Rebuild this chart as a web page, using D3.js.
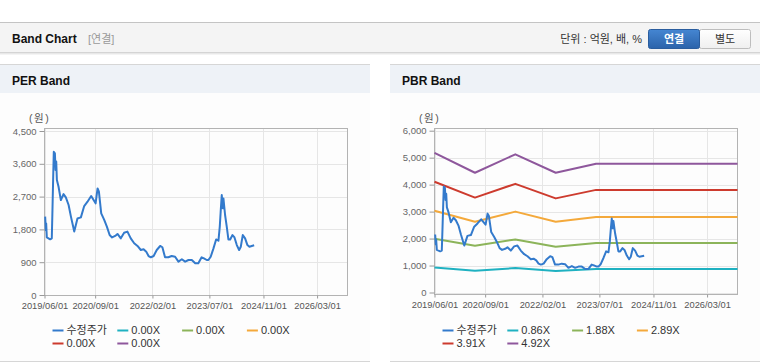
<!DOCTYPE html>
<html><head><meta charset="utf-8">
<script src="https://cdn.jsdelivr.net/npm/d3@7"></script>
<style>
html,body{margin:0;padding:0;background:#fff;}
svg{display:block;font-family:"Liberation Sans","Noto Sans CJK KR",Arial,sans-serif;}
</style></head><body>
<svg id="c" width="760" height="364"></svg>
<script>
// ---------- data ----------
const priceDates = ["2019-06-07","2019-06-13","2019-06-16","2019-06-22","2019-07-07","2019-07-22","2019-08-06","2019-08-12","2019-08-18","2019-08-24",
"2019-09-03","2019-09-09","2019-09-15","2019-09-21","2019-10-06","2019-10-27","2019-11-20","2019-12-11","2020-01-05","2020-01-26",
"2020-02-25","2020-03-25","2020-04-25","2020-05-25","2020-06-24","2020-07-27","2020-09-05","2020-09-23","2020-10-05","2020-10-26",
"2020-11-22","2020-12-16","2021-01-10","2021-02-01","2021-03-01","2021-03-22","2021-04-21","2021-05-21","2021-06-20","2021-07-20",
"2021-08-20","2021-09-19","2021-10-19","2021-11-13","2021-12-07","2021-12-28","2022-01-18","2022-02-12","2022-03-12","2022-04-12",
"2022-05-02","2022-05-26","2022-06-25","2022-07-25","2022-08-25","2022-09-24","2022-10-25","2022-11-24","2022-12-24","2023-01-23",
"2023-02-23","2023-03-23","2023-04-22","2023-05-13","2023-06-07","2023-06-22","2023-07-13","2023-08-07","2023-08-31","2023-09-21",
"2023-10-03","2023-10-12","2023-10-21","2023-10-30","2023-11-05","2023-11-20","2023-12-05","2023-12-20","2024-01-05","2024-01-26",
"2024-02-13","2024-03-05","2024-03-26","2024-04-10","2024-04-28","2024-05-19","2024-06-09","2024-06-27","2024-07-18","2024-08-09"];
const priceValues = [2150,1780,1965,1580,1555,1527,1555,2330,3155,3930,
3890,3430,3660,3155,2970,2605,2770,2680,2470,2150,
1740,2100,2130,2440,2560,2715,2515,2925,2835,2240,
2060,1875,1645,1580,1620,1675,1555,1710,1740,1555,
1420,1345,1235,1255,1190,1070,1035,1070,1235,1345,
1310,1035,1035,1070,1050,915,980,915,960,960,
870,870,1035,1005,960,960,1050,1280,1525,1490,
1875,2330,2745,2380,2650,2195,1875,1525,1525,1645,
1580,1370,1235,1325,1645,1555,1370,1325,1345,1365];

const bandDates = ["2019-06-01","2020-06-01","2021-06-01","2022-06-01","2023-06-01","2026-12-01"];
const pbrBand086 = [925, 805, 905, 800, 870, 870];
const pbrBand188 = [1990, 1730, 1968, 1693, 1835, 1835];
const pbrBand289 = [3030, 2621, 3000, 2621, 2800, 2800];
const pbrBand391 = [4106, 3520, 4030, 3490, 3805, 3805];
const pbrBand492 = [5180, 4440, 5125, 4440, 4778, 4778];

const pbrLabels = ["수정주가","0.86X","1.88X","2.89X","3.91X","4.92X"];
const perLabels = ["수정주가","0.00X","0.00X","0.00X","0.00X","0.00X"];
const perTicks = [0, 900, 1800, 2700, 3600, 4500];
const pbrTicks = [0, 1000, 2000, 3000, 4000, 5000, 6000];
const xTickDates = ["2019-06-01","2020-09-01","2022-02-01","2023-07-01","2024-11-01","2026-03-01"];
const xDomain = ["2019-06-01","2026-12-01"];
const colors = ["#337acc","#1fb1c1","#8cb45a","#f4a93b","#cd3b2e","#8e579c"];

// ---------- drawing ----------
const parse = d3.timeParse("%Y-%m-%d");
const svg = d3.select("#c");

// header
svg.append("rect").attr("x",0).attr("y",22).attr("width",760).attr("height",30).attr("fill","#f4f4f4");
svg.append("line").attr("x1",0).attr("x2",760).attr("y1",22.5).attr("y2",22.5).attr("stroke","#c4c4c4");
svg.append("line").attr("x1",0).attr("x2",760).attr("y1",52.5).attr("y2",52.5).attr("stroke","#d4d4d4");
svg.append("line").attr("x1",0).attr("x2",760).attr("y1",53.5).attr("y2",53.5).attr("stroke","#e8e8e8");
svg.append("line").attr("x1",0).attr("x2",760).attr("y1",54.5).attr("y2",54.5).attr("stroke","#f4f4f4");
svg.append("text").attr("x",12).attr("y",43).attr("font-size",12).attr("font-weight","bold").attr("fill","#111").text("Band Chart");
svg.append("text").attr("x",88).attr("y",43).attr("font-size",11).attr("fill","#999").text("[연결]");
svg.append("text").attr("x",642).attr("y",43).attr("font-size",11).attr("fill","#333").attr("text-anchor","end").text("단위 : 억원, 배, %");

const defs = svg.append("defs");
const gb = defs.append("linearGradient").attr("id","gb").attr("x1",0).attr("x2",0).attr("y1",0).attr("y2",1);
gb.append("stop").attr("offset","0").attr("stop-color","#4586d2");
gb.append("stop").attr("offset","1").attr("stop-color","#2b63aa");
const gw = defs.append("linearGradient").attr("id","gw").attr("x1",0).attr("x2",0).attr("y1",0).attr("y2",1);
gw.append("stop").attr("offset","0").attr("stop-color","#ffffff");
gw.append("stop").attr("offset","1").attr("stop-color","#efefef");
svg.append("rect").attr("x",699.5).attr("y",29.5).attr("width",51).attr("height",19).attr("rx",2).attr("fill","url(#gw)").attr("stroke","#bdbdbd");
svg.append("rect").attr("x",648.5).attr("y",29.5).attr("width",51).attr("height",19).attr("rx",2).attr("fill","url(#gb)").attr("stroke","#2a5d9e");
svg.append("text").attr("x",674).attr("y",43).attr("font-size",11).attr("font-weight","bold").attr("fill","#fff").attr("text-anchor","middle").text("연결");
svg.append("text").attr("x",725).attr("y",43).attr("font-size",11).attr("fill","#333").attr("text-anchor","middle").text("별도");

function drawPanel(ox, cfg) {
  const g = svg.append("g").attr("transform", `translate(${ox},0)`);
  g.append("rect").attr("x",0).attr("y",64).attr("width",370).attr("height",298).attr("fill","#fdfdfd");
  g.append("rect").attr("x",0).attr("y",64).attr("width",370).attr("height",29).attr("fill","#eef2f7");
  g.append("line").attr("x1",0).attr("x2",370).attr("y1",64.5).attr("y2",64.5).attr("stroke","#d6d6d6");
  g.append("line").attr("x1",0).attr("x2",370).attr("y1",361.5).attr("y2",361.5).attr("stroke","#d6d6d6");
  g.append("text").attr("x",12).attr("y",85).attr("font-size",12).attr("font-weight","bold").attr("fill","#111").text(cfg.title);
  g.append("text").attr("x",29).attr("y",122).attr("font-size",10.5).attr("letter-spacing",1.6).attr("fill","#555").text("(원)");

  const left = 44.5, right = 347.5, top = 128.5, bottom = cfg.bottom;
  const x = d3.scaleTime().domain(xDomain.map(parse)).range([left, right]);
  const y = d3.scaleLinear().domain([0, d3.max(cfg.ticks)]).range(cfg.yRange);
  const xt = xTickDates.map(parse);

  // grid
  g.append("g").selectAll("line").data(cfg.ticks).join("line")
    .attr("x1",left).attr("x2",right).attr("y1",d=>Math.round(y(d))+0.5).attr("y2",d=>Math.round(y(d))+0.5)
    .attr("stroke","#e6e6e6");
  g.append("g").selectAll("line").data(xt).join("line")
    .attr("x1",d=>Math.round(x(d))+0.5).attr("x2",d=>Math.round(x(d))+0.5).attr("y1",top).attr("y2",bottom)
    .attr("stroke","#e6e6e6");
  g.append("rect").attr("x",left).attr("y",top).attr("width",right-left).attr("height",bottom-top)
    .attr("fill","none").attr("stroke","#b3b3b3");

  // axes
  const ay = g.append("g").attr("transform",`translate(${left},0)`)
    .call(d3.axisLeft(y).tickValues(cfg.ticks).tickSize(5).tickPadding(3).tickFormat(d3.format(",")));
  ay.select(".domain").remove();
  ay.selectAll("line").attr("stroke","#999");
  ay.selectAll("text").attr("fill","#666").attr("font-size",9.5).attr("font-family",null);
  const ax = g.append("g").attr("transform",`translate(0,${bottom})`)
    .call(d3.axisBottom(x).tickValues(xt).tickSize(3).tickPadding(4).tickFormat(d3.timeFormat("%Y/%m/%d")));
  ax.select(".domain").remove();
  ax.selectAll("line").attr("stroke","#999");
  ax.selectAll("text").attr("fill","#555").attr("font-size",9.3).attr("font-family",null);

  // lines
  const line = d3.line().x(d=>x(d.date)).y(d=>y(d.v));
  const bd = bandDates.map(parse);
  cfg.bands.forEach((vals, i) => {
    if (!vals) return;
    g.append("path").datum(vals.map((v,j)=>({date:bd[j], v})))
      .attr("d", line).attr("fill","none").attr("stroke", colors[i+1]).attr("stroke-width",2)
      .attr("stroke-linejoin","round");
  });
  const pd = priceDates.map((d,i)=>({date:parse(d), v:priceValues[i]}));
  g.append("path").datum(pd).attr("d", line).attr("fill","none").attr("stroke",colors[0])
    .attr("stroke-width",2).attr("stroke-linejoin","round");

  // legend
  const lg = g.append("g");
  cfg.labels.forEach((lab, i) => {
    const col = i % 4, row = Math.floor(i / 4);
    const sx = 52.5 + 64.8 * col, by = 334 + 13 * row;
    lg.append("line").attr("x1",sx).attr("x2",sx+11).attr("y1",by-3.5).attr("y2",by-3.5)
      .attr("stroke",colors[i]).attr("stroke-width",2);
    lg.append("text").attr("x",sx+14).attr("y",by).attr("font-size",11).attr("fill","#333").text(lab);
  });
}

drawPanel(0, {title:"PER Band", ticks:perTicks, yRange:[295, 131], bottom:295.5,
  bands:[null,null,null,null,null], labels:perLabels});
drawPanel(390, {title:"PBR Band", ticks:pbrTicks, yRange:[292.5, 130.7], bottom:294.5,
  bands:[pbrBand086,pbrBand188,pbrBand289,pbrBand391,pbrBand492], labels:pbrLabels});
</script>
</body></html>
